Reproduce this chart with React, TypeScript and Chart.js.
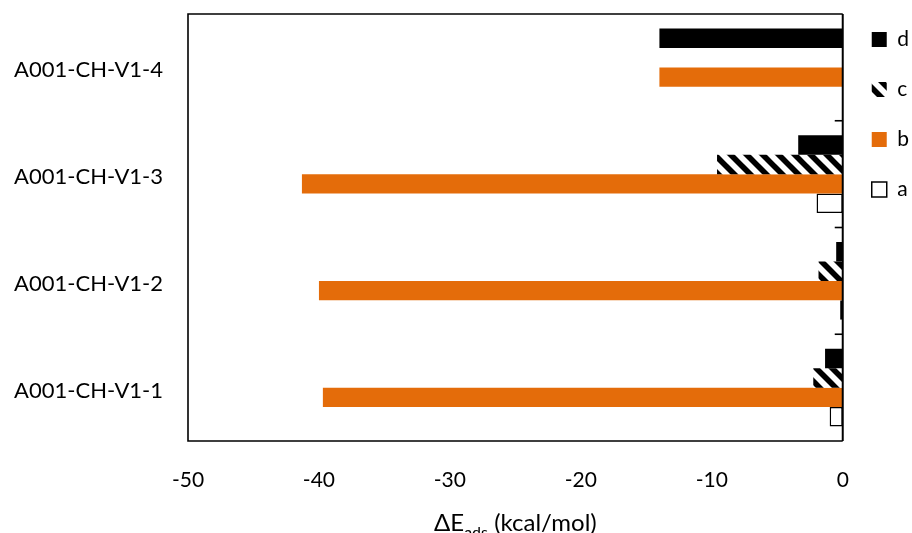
import React, { useEffect, useRef } from "react";
import { Chart, registerables } from "chart.js";

Chart.register(...registerables);

const categories = ["A001-CH-V1-4", "A001-CH-V1-3", "A001-CH-V1-2", "A001-CH-V1-1"];
const seriesNames = ["d", "c", "b", "a"];
const valuesD = [-14.0, -3.4, -0.5, -1.35];
const valuesC = [null, -9.6, -1.85, -2.25];
const valuesB = [-14.0, -41.3, -40.0, -39.7];
const valuesA = [null, -2.0, -0.2, -1.0];
const xTickMin = -50;
const xTickMax = 0;
const xTickStep = 10;
const axisTitleMain = "ΔE";
const axisTitleSub = "ads";
const axisTitleRest = " (kcal/mol)";

const FONT = "Lato, 'Open Sans', sans-serif";

function makeStripePattern(): CanvasPattern | string {
  const c = document.createElement("canvas");
  c.width = 16;
  c.height = 16;
  const ctx = c.getContext("2d");
  if (!ctx) return "#000";
  ctx.fillStyle = "#fff";
  ctx.fillRect(0, 0, 16, 16);
  ctx.strokeStyle = "#000";
  ctx.lineWidth = 5.6;
  for (const k of [-16, 0, 16]) {
    ctx.beginPath();
    ctx.moveTo(k - 4, -4);
    ctx.lineTo(k + 20, 20);
    ctx.stroke();
  }
  const p = ctx.createPattern(c, "repeat");
  return p || "#000";
}

const framePlugin = {
  id: "frame",
  afterDatasetsDraw(chart: any) {
    const { ctx, chartArea, scales } = chart;
    const x0 = scales.x.getPixelForValue(0);
    ctx.save();
    ctx.strokeStyle = "#000";
    ctx.lineWidth = 1.6;
    ctx.beginPath();
    ctx.moveTo(x0, chartArea.top);
    ctx.lineTo(chartArea.left, chartArea.top);
    ctx.lineTo(chartArea.left, chartArea.bottom);
    ctx.lineTo(x0, chartArea.bottom);
    ctx.stroke();
    ctx.lineWidth = 2;
    ctx.beginPath();
    ctx.moveTo(x0, chartArea.top);
    ctx.lineTo(x0, chartArea.bottom);
    ctx.stroke();
    const y = scales.y;
    ctx.lineWidth = 1.6;
    for (let i = 0; i < categories.length - 1; i++) {
      const yy = (y.getPixelForValue(i) + y.getPixelForValue(i + 1)) / 2;
      ctx.beginPath();
      ctx.moveTo(x0 - 8, yy);
      ctx.lineTo(x0, yy);
      ctx.stroke();
    }
    ctx.restore();
  },
  afterDraw(chart: any) {
    const { ctx, chartArea } = chart;
    ctx.save();
    const big = `24px ${FONT}`;
    const small = `16px ${FONT}`;
    ctx.font = big;
    const w1 = ctx.measureText(axisTitleMain).width;
    const w3 = ctx.measureText(axisTitleRest).width;
    ctx.font = small;
    const w2 = ctx.measureText(axisTitleSub).width;
    const total = w1 + w2 + w3;
    const cx = (chartArea.left + chartArea.right) / 2;
    let x = cx - total / 2;
    const base = 531;
    ctx.fillStyle = "#000";
    ctx.textBaseline = "alphabetic";
    ctx.textAlign = "left";
    ctx.font = big;
    ctx.fillText(axisTitleMain, x, base);
    x += w1;
    ctx.font = small;
    ctx.fillText(axisTitleSub, x, base + 7);
    x += w2;
    ctx.font = big;
    ctx.fillText(axisTitleRest, x, base);
    ctx.restore();
  },
};

export default function App() {
  const ref = useRef<HTMLCanvasElement | null>(null);
  useEffect(() => {
    document.body.style.margin = "0";
    const canvas = ref.current;
    if (!canvas) return;
    const stripes = makeStripePattern();
    const chart = new Chart(canvas, {
      type: "bar",
      data: {
        labels: categories,
        datasets: [
          { label: seriesNames[0], data: valuesD, backgroundColor: "#000000", borderWidth: 0 },
          { label: seriesNames[1], data: valuesC as any, backgroundColor: stripes as any, borderWidth: 0 },
          { label: seriesNames[2], data: valuesB, backgroundColor: "#E46C0A", borderWidth: 0 },
          {
            label: seriesNames[3],
            data: valuesA as any,
            backgroundColor: "#ffffff",
            borderColor: "#000000",
            borderWidth: 1.5,
            borderSkipped: false,
          },
        ],
      },
      options: {
        indexAxis: "y",
        animation: false,
        responsive: false,
        devicePixelRatio: 1,
        layout: { padding: { left: 0, top: 0, right: -7, bottom: 0 } },
        datasets: { bar: { categoryPercentage: 0.73, barPercentage: 1 } },
        scales: {
          x: {
            type: "linear",
            min: xTickMin,
            max: xTickMax,
            ticks: {
              stepSize: xTickStep,
              padding: 27,
              color: "#000",
              font: { family: FONT, size: 21 },
            },
            grid: { display: false, drawTicks: false },
            border: { display: false },
            afterFit: (s: any) => {
              s.height = 92;
            },
          },
          x2: {
            type: "linear",
            position: "top",
            display: true,
            ticks: { display: false },
            grid: { display: false, drawTicks: false },
            border: { display: false },
            afterFit: (s: any) => {
              s.height = 14;
            },
          },
          y: {
            type: "category",
            ticks: {
              padding: 0,
              labelOffset: 3,
              color: "#000",
              font: { family: FONT, size: 22 },
            },
            grid: { display: false, drawTicks: true, tickLength: 25 },
            border: { display: false },
            afterFit: (s: any) => {
              s.width = 188;
            },
          },
        },
        plugins: {
          legend: {
            position: "right",
            align: "start",
            labels: {
              boxWidth: 15,
              boxHeight: 15,
              padding: 29,
              color: "#000",
              font: { family: FONT, size: 21 },
            },
          },
          tooltip: { enabled: false },
          title: { display: false },
        },
      } as any,
      plugins: [framePlugin],
    });
    return () => chart.destroy();
  }, []);
  return (
    <div style={{ position: "absolute", left: 0, top: 0, width: 912, height: 533 }}>
      <canvas ref={ref} width={912} height={533} style={{ display: "block" }} />
    </div>
  );
}
